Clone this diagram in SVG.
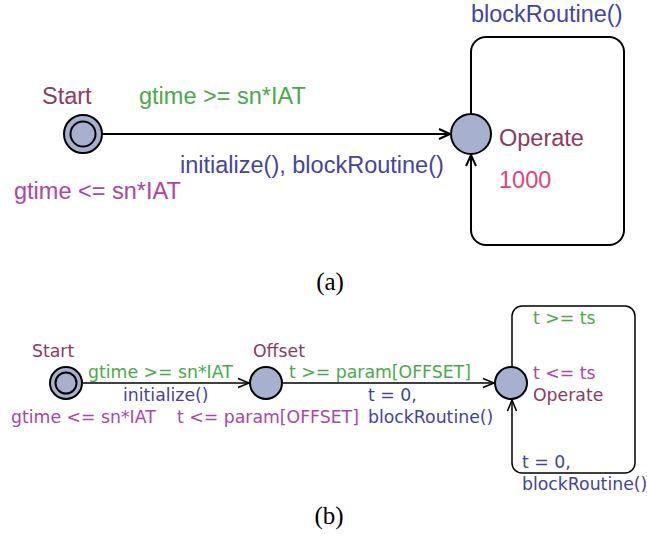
<svg xmlns="http://www.w3.org/2000/svg" width="647" height="538" viewBox="0 0 647 538">
<style>
  .a { font-family: "Liberation Sans", Arial, sans-serif; font-size: 23.5px; }
  .b { font-family: "DejaVu Sans", "Liberation Sans", sans-serif; font-size: 17.3px; }
  .cap { font-family: "Liberation Serif", "Times New Roman", serif; font-size: 25px; fill: #000; text-anchor: middle; }
  .name { fill: #8e3a64; }
  .guard { fill: #47ab47; }
  .inv { fill: #ad45ad; }
  .upd { fill: #4343a8; }
  .rate { fill: #e8427a; }
  .node { fill: #a8b0cf; stroke: #000; stroke-width: 2; }
  .edge { fill: none; stroke: #000; stroke-width: 2; }
  .edgeb { fill: none; stroke: #000; stroke-width: 1.5; }
</style>
<defs>
  <marker id="arr" markerUnits="userSpaceOnUse" markerWidth="14" markerHeight="14" refX="12" refY="6" orient="auto" viewBox="0 0 14 12">
    <path d="M1,1 L12,6 L1,11" fill="none" stroke="#000" stroke-width="2"/>
  </marker>
  <marker id="arrb" markerUnits="userSpaceOnUse" markerWidth="14" markerHeight="14" refX="12" refY="6" orient="auto" viewBox="0 0 14 12">
    <path d="M1,1.5 L12,6 L1,10.5" fill="none" stroke="#000" stroke-width="1.6"/>
  </marker>
</defs>

<!-- ===== (a) ===== -->
<g id="a-connectors">
  <path class="edge" d="M102,134 H450" marker-end="url(#arr)"/>
  <path class="edge" d="M471,114 V52 A15,15 0 0 1 486,37 H609 A15,15 0 0 1 624,52 V230 A15,15 0 0 1 609,245 H486 A15,15 0 0 1 471,230 V155" marker-end="url(#arr)"/>
  <text class="a guard" x="139" y="104">gtime &gt;= sn*IAT</text>
  <text class="a upd" x="180" y="173">initialize(), blockRoutine()</text>
  <text class="a upd" x="471" y="22">blockRoutine()</text>
</g>
<g id="a-start">
  <circle class="node" cx="83" cy="134" r="19"/>
  <circle class="node" cx="83" cy="134" r="12.5"/>
  <text class="a name" x="42" y="104">Start</text>
  <text class="a inv" x="14" y="199">gtime &lt;= sn*IAT</text>
</g>
<g id="a-operate">
  <circle class="node" cx="471" cy="134" r="20"/>
  <text class="a name" x="499" y="146">Operate</text>
  <text class="a rate" x="499" y="188">1000</text>
</g>
<text class="cap" x="330" y="290">(a)</text>

<!-- ===== (b) ===== -->
<g id="b-connectors">
  <path class="edgeb" d="M82,383 H249" marker-end="url(#arrb)"/>
  <path class="edgeb" d="M282,383 H494" marker-end="url(#arrb)"/>
  <path class="edgeb" d="M512,367 V316 A10,10 0 0 1 522,306 H625 A10,10 0 0 1 635,316 V463 A10,10 0 0 1 625,473 H522 A10,10 0 0 1 512,463 V400" marker-end="url(#arrb)"/>
  <text class="b guard" x="88" y="378">gtime &gt;= sn*IAT</text>
  <text class="b upd" x="123" y="401">initialize()</text>
  <text class="b guard" x="289" y="378">t &gt;= param[OFFSET]</text>
  <text class="b upd" x="368" y="401">t = 0,</text>
  <text class="b upd" x="368" y="423">blockRoutine()</text>
  <text class="b guard" x="533" y="324">t &gt;= ts</text>
  <text class="b upd" x="522" y="468">t = 0,</text>
  <text class="b upd" x="522" y="490">blockRoutine()</text>
</g>
<g id="b-start">
  <circle class="node" cx="66" cy="383" r="16" stroke-width="1.6"/>
  <circle class="node" cx="66" cy="383" r="10.5" stroke-width="1.6"/>
  <text class="b name" x="32" y="357">Start</text>
  <text class="b inv" x="11" y="423">gtime &lt;= sn*IAT</text>
</g>
<g id="b-offset">
  <circle class="node" cx="266" cy="383" r="16" stroke-width="1.6"/>
  <text class="b name" x="253" y="357">Offset</text>
  <text class="b inv" x="177" y="423">t &lt;= param[OFFSET]</text>
</g>
<g id="b-operate">
  <circle class="node" cx="511" cy="383" r="16" stroke-width="1.6"/>
  <text class="b inv" x="533" y="379">t &lt;= ts</text>
  <text class="b name" x="533" y="401">Operate</text>
</g>
<text class="cap" x="329" y="524">(b)</text>
</svg>
